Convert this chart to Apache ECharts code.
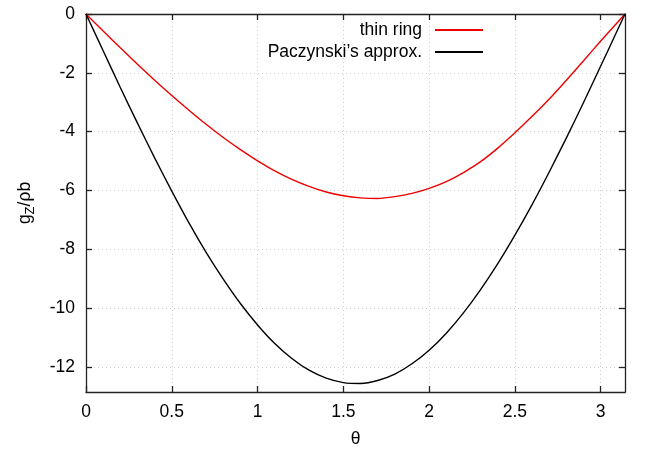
<!DOCTYPE html>
<html>
<head>
<meta charset="utf-8">
<script src="https://cdn.jsdelivr.net/npm/echarts@6/dist/echarts.min.js"></script>
<style>
html,body{margin:0;padding:0;background:#fff;}
#chart{width:645px;height:449px;}
</style>
</head>
<body>
<div id="chart"></div>
<script>
const theta = [0,0.1,0.2,0.3,0.4,0.5,0.6,0.7,0.8,0.9,1.0,1.1,1.2,1.3,1.4,1.5,1.6,1.7,1.8,1.9,2.0,2.1,2.2,2.3,2.4,2.5,2.6,2.7,2.8,2.9,3.0,3.1,3.1416];
const gThinRing = [0,-0.58,-1.15,-1.71,-2.25,-2.77,-3.27,-3.75,-4.20,-4.61,-4.99,-5.33,-5.62,-5.86,-6.05,-6.18,-6.25,-6.27,-6.21,-6.10,-5.93,-5.70,-5.39,-5.02,-4.56,-4.04,-3.48,-2.89,-2.25,-1.59,-0.92,-0.27,0];
const gPaczynski = [0,-1.25,-2.50,-3.71,-4.89,-6.02,-7.10,-8.10,-9.01,-9.84,-10.57,-11.20,-11.71,-12.11,-12.38,-12.53,-12.56,-12.46,-12.24,-11.89,-11.43,-10.85,-10.16,-9.37,-8.49,-7.52,-6.48,-5.37,-4.21,-3.01,-1.77,-0.52,0];
const xTicks = [0,0.5,1,1.5,2,2.5,3];
const yTicks = [0,-2,-4,-6,-8,-10,-12];
const seriesNames = ['thin ring', 'Paczynski\u2019s approx.'];

const FONT = 'Liberation Sans';
const FS = 17.5;
const X_MIN = 0, X_MAX = 3.1416, Y_MIN = -12.85, Y_MAX = 0;

const axisLineStyle = {color: '#222', width: 1.3};
const gridLineStyle = {color: '#d0d0d0', width: 1, type: [1, 3]};

function mkX(pos, showLabels) {
  return {
    type: 'value', position: pos, min: X_MIN, max: X_MAX,
    axisLine: {show: true, onZero: false, lineStyle: axisLineStyle},
    axisTick: {show: true, inside: true, length: 6, customValues: xTicks, lineStyle: axisLineStyle},
    axisLabel: {show: showLabels, customValues: xTicks, margin: 11, color: '#000', fontFamily: FONT, fontSize: FS},
    splitLine: {show: showLabels, lineStyle: gridLineStyle},
    name: showLabels ? '\u03b8' : '',
    nameLocation: 'middle', nameGap: 38,
    nameTextStyle: {color: '#000', fontFamily: FONT, fontSize: FS}
  };
}
function mkY(pos, showLabels) {
  return {
    type: 'value', position: pos, min: Y_MIN, max: Y_MAX,
    axisLine: {show: true, onZero: false, lineStyle: axisLineStyle},
    axisTick: {show: true, inside: true, length: 6, customValues: yTicks, lineStyle: axisLineStyle},
    axisLabel: {show: showLabels, customValues: yTicks, margin: 11, color: '#000', fontFamily: FONT, fontSize: FS},
    splitLine: {show: showLabels, lineStyle: gridLineStyle},
    name: showLabels ? '{g|g}{s|Z}{g|/\u03c1b}' : '',
    nameLocation: 'middle', nameGap: 50, nameRotate: 90,
    nameTextStyle: {
      color: '#000', fontFamily: FONT, fontSize: FS,
      rich: {
        g: {fontFamily: FONT, fontSize: FS, color: '#000', lineHeight: 22},
        s: {fontFamily: FONT, fontSize: 13, color: '#000', lineHeight: 13, padding: [10, 0, 0, 0]}
      }
    }
  };
}

const chart = echarts.init(document.getElementById('chart'), null, {renderer: 'canvas'});
chart.setOption({
  animation: false,
  backgroundColor: '#fff',
  grid: {left: 86, right: 20, top: 14, bottom: 57, containLabel: false, outerBoundsMode: 'none'},
  xAxis: [mkX('bottom', true), mkX('top', false)],
  yAxis: [mkY('left', true), mkY('right', false)],
  legend: [
    {data: [seriesNames[0]], orient: 'vertical', align: 'right', right: 162, top: 20, padding: 0,
     icon: 'rect', itemWidth: 48, itemHeight: 2,
     textStyle: {fontFamily: FONT, fontSize: FS, color: '#000', lineHeight: 20, padding: [0, 8, 0, 0]}},
    {data: [seriesNames[1]], orient: 'vertical', align: 'right', right: 162, top: 42, padding: 0,
     icon: 'rect', itemWidth: 48, itemHeight: 2,
     textStyle: {fontFamily: FONT, fontSize: FS, color: '#000', lineHeight: 20, padding: [0, 8, 0, 0]}}
  ],
  series: [
    {name: seriesNames[0], type: 'line', xAxisIndex: 0, yAxisIndex: 0,
     data: theta.map((t, i) => [t, gThinRing[i]]),
     showSymbol: false, smooth: 0.25, color: '#ee0000',
     lineStyle: {color: '#ee0000', width: 1.4}},
    {name: seriesNames[1], type: 'line', xAxisIndex: 0, yAxisIndex: 0,
     data: theta.map((t, i) => [t, gPaczynski[i]]),
     showSymbol: false, smooth: 0.25, color: '#000',
     lineStyle: {color: '#000', width: 1.4}}
  ]
});
</script>
</body>
</html>
